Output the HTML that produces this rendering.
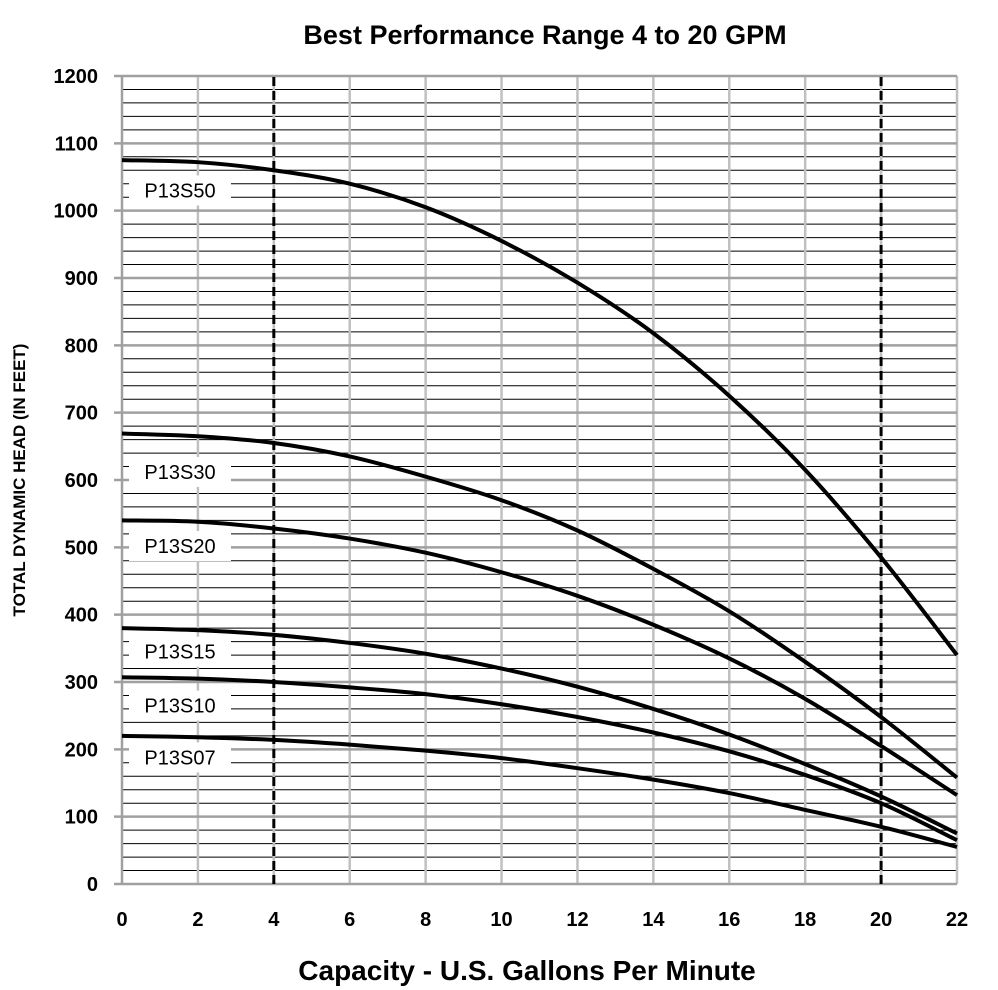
<!DOCTYPE html>
<html><head><meta charset="utf-8"><style>
body{margin:0;background:#fff;}
svg{display:block;font-family:"Liberation Sans",sans-serif;}
</style></head><body>
<svg id="chart" width="998" height="990">
<text x="545" y="44" text-anchor="middle" font-size="27" font-weight="bold">Best Performance Range 4 to 20 GPM</text>
<text x="527" y="980" text-anchor="middle" font-size="28" font-weight="bold">Capacity - U.S. Gallons Per Minute</text>
<text transform="translate(25,480) rotate(-90)" text-anchor="middle" font-size="17" font-weight="bold">TOTAL DYNAMIC HEAD (IN FEET)</text>
<g id="grid"></g><g id="curves"></g><g id="labels"></g>
</svg>
<script>
const xTicks=[0,2,4,6,8,10,12,14,16,18,20,22];
const yTicks=[0,100,200,300,400,500,600,700,800,900,1000,1100,1200];
const rangeLines=[4,20];
const seriesNames=["P13S50","P13S30","P13S20","P13S15","P13S10","P13S07"];
const s50=[1075,1072,1060,1040,1005,955,893,818,725,615,485,340];
const s30=[669,665,655,635,605,570,525,468,405,330,248,158];
const s20=[540,538,528,513,492,463,428,385,335,275,205,132];
const s15=[380,377,370,358,342,320,293,260,222,178,130,75];
const s10=[307,305,300,292,282,267,248,225,197,162,120,65];
const s07=[220,218,214,207,198,187,172,155,135,110,85,55];
const labelY=[1030,612,502,345,265,188];
const NS="http://www.w3.org/2000/svg";
const X=v=>122+v*(957-122)/22, Y=v=>884-v*(884-76)/1200;
function mk(t,a,p){const e=document.createElementNS(NS,t);for(const k in a)e.setAttribute(k,a[k]);p.appendChild(e);return e;}
const g=document.getElementById('grid');
for(let v=0;v<=1200;v+=20){if(v%100===0)continue;
 const l=mk('line',{x1:X(0),x2:X(22),y1:Y(v),y2:Y(v),stroke:'#000','stroke-width':1},g);
 
 }
xTicks.forEach(t=>{if(t===0)return;
 const l=mk('line',{x1:X(t),x2:X(t),y1:Y(0),y2:Y(1200),stroke:'#c0c0c0','stroke-width':2.5},g);
 
 });
yTicks.forEach(t=>{
 const l=mk('line',{x1:X(0)-8,x2:X(22),y1:Y(t),y2:Y(t),stroke:'#a0a0a0','stroke-width':2.5},g);
 
 
 const tx=mk('text',{x:98,y:Y(t)+7,'text-anchor':'end','font-size':20,'font-weight':'bold'},g);tx.textContent=t;
 
 });
xTicks.forEach(t=>{
 const tx=mk('text',{x:X(t),y:926,'text-anchor':'middle','font-size':20,'font-weight':'bold'},g);tx.textContent=t;
 
 });
const ax=mk('line',{x1:X(0),x2:X(0),y1:Y(0),y2:Y(1200),stroke:'#a0a0a0','stroke-width':2.5},g);


rangeLines.forEach(r=>{
 const l=mk('line',{x1:X(r),x2:X(r),y1:Y(0),y2:Y(1200),stroke:'#000','stroke-width':3,'stroke-dasharray':'9,5'},g);
 
 });
const cv=document.getElementById('curves');
[s50,s30,s20,s15,s10,s07].forEach((s,i)=>{
 const p=s.map((v,j)=>[X(xTicks[j]),Y(v)]);
 let d='M'+p[0];
 for(let j=0;j<p.length-1;j++){const p0=p[Math.max(0,j-1)],p1=p[j],p2=p[j+1],p3=p[Math.min(p.length-1,j+2)];
  d+=' C'+(p1[0]+(p2[0]-p0[0])/6)+','+(p1[1]+(p2[1]-p0[1])/6)+' '+(p2[0]-(p3[0]-p1[0])/6)+','+(p2[1]-(p3[1]-p1[1])/6)+' '+p2;}
 const e=mk('path',{d:d,fill:'none',stroke:'#000','stroke-width':4},cv);
 
 });
const lb=document.getElementById('labels');
seriesNames.forEach((n,i)=>{
 const y=Y(labelY[i]);
 const r=mk('rect',{x:129,y:y-15,width:102,height:30,fill:'#fff'},lb);
 
 
 const t=mk('text',{x:180,y:y+7,'text-anchor':'middle','font-size':20},lb);t.textContent=n;
 
 });
</script>
</body></html>
